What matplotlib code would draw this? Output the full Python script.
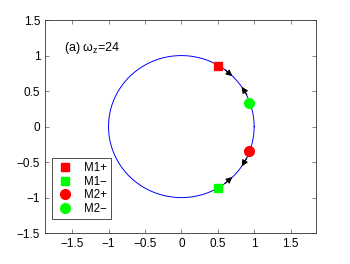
import numpy as np
import matplotlib
matplotlib.use("Agg")
import matplotlib.pyplot as plt

plt.rcParams['font.family'] = ['Liberation Sans', 'DejaVu Sans']
plt.rcParams['mathtext.fontset'] = 'custom'
plt.rcParams['mathtext.rm'] = 'Liberation Sans'
plt.rcParams['mathtext.it'] = 'Liberation Sans'

# data
theta = np.linspace(0, 2*np.pi, 400)
circle_x = np.cos(theta)
circle_y = np.sin(theta)

m1p = (0.51, 0.86)
m1m = (0.51, -0.86)
m2p = (0.93, -0.34)
m2m = (0.93, 0.33)

# arrow (tail -> head)
arrow_tails = [(0.60, 0.80), (0.90, 0.45), (0.90, -0.44), (0.60, -0.80)]
arrow_heads = [(0.70, 0.71), (0.83, 0.56), (0.83, -0.56), (0.70, -0.71)]

xticks = [-1.5, -1, -0.5, 0, 0.5, 1, 1.5]
yticks = [-1.5, -1, -0.5, 0, 0.5, 1, 1.5]
xtick_labels = ["\u22121.5", "\u22121", "\u22120.5", "0", "0.5", "1", "1.5"]
ytick_labels = ["\u22121.5", "\u22121", "\u22120.5", "0", "0.5", "1", "1.5"]

fig = plt.figure(figsize=(3.5, 2.64), dpi=100)
ax = fig.add_axes([0.129, 0.117, 0.774, 0.807])

ax.plot(circle_x, circle_y, color="#0000ff", lw=0.7)
for t, h in zip(arrow_tails, arrow_heads):
    ax.annotate("", xy=h, xytext=t,
                arrowprops=dict(arrowstyle="-|>", color="black", lw=0.8,
                                mutation_scale=9, shrinkA=0, shrinkB=0))

ax.plot(*m1p, "s", color="#ff0000", ms=5.5, label="M1+", ls="none")
ax.plot(*m1m, "s", color="#00ff00", ms=5.5, label="M1\u2212", ls="none")
ax.plot(*m2p, "o", color="#ff0000", ms=7, label="M2+", ls="none")
ax.plot(*m2m, "o", color="#00ff00", ms=7, label="M2\u2212", ls="none")

ax.set_xlim(-1.87, 1.85)
ax.set_ylim(-1.5, 1.5)
ax.set_xticks(xticks)
ax.set_xticklabels(xtick_labels)
ax.set_yticks(yticks)
ax.set_yticklabels(ytick_labels)
ax.tick_params(direction="in", top=True, right=True, labelsize=8.5, length=3,
               width=0.5, color="#555555")
for s in ax.spines.values():
    s.set_linewidth(0.6)
    s.set_color("#333333")

ax.text(-1.61, 1.1, r"(a) $\mathrm{\omega_z}$=24", fontsize=9, ha="left", va="center")

leg = ax.legend(loc="lower left", fontsize=8.3, frameon=True, fancybox=False,
                edgecolor="#333333", borderpad=0.35, handletextpad=0.8,
                labelspacing=0.15, handlelength=1.6, borderaxespad=0,
                bbox_to_anchor=(0.026, 0.065), framealpha=1)
leg.get_frame().set_linewidth(0.6)

fig.savefig("out.png", dpi=100)
